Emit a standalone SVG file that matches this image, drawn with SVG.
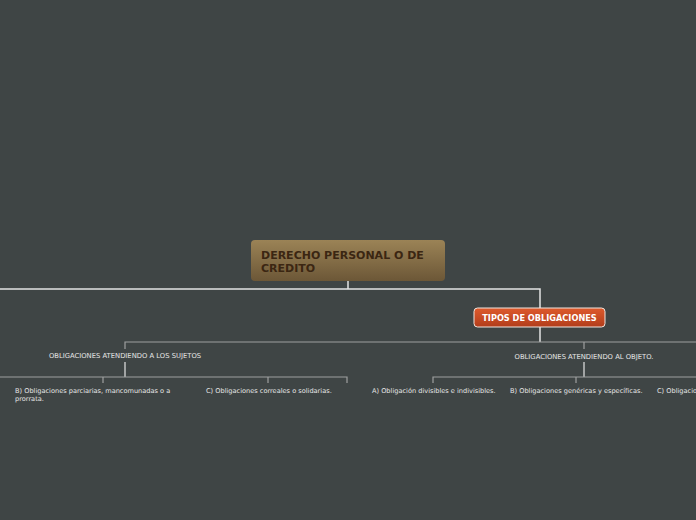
<svg xmlns="http://www.w3.org/2000/svg" width="696" height="520" viewBox="0 0 696 520">
<defs>
<linearGradient id="gMain" x1="0" y1="0" x2="0" y2="1">
<stop offset="0" stop-color="#9b8356"/>
<stop offset="1" stop-color="#6c5737"/>
</linearGradient>
<linearGradient id="gTipos" x1="0" y1="0" x2="0" y2="1">
<stop offset="0" stop-color="#de5a2c"/>
<stop offset="1" stop-color="#b23d1b"/>
</linearGradient>
<style>
.t{font-family:"DejaVu Sans",Verdana,sans-serif;fill:#e6e6e6;font-size:6.8px}
.l{font-family:"DejaVu Sans",Verdana,sans-serif;fill:#e6e6e6;font-size:6.6px}
.c1{stroke:#e4e4e4;stroke-width:1.5;fill:none}
.c2{stroke:#9ea0a0;stroke-width:1.2;fill:none}
.c3{stroke:#e4e4e4;stroke-width:1.2;fill:none}
</style>
</defs>
<rect width="696" height="520" fill="#3f4545"/>
<g id="connectors">
<path class="c1" d="M348 281V289M0 289H540V308"/>
<path class="c1" d="M540 327V342"/>
<path class="c2" d="M125 349V342H696M584 342V349"/>
<path class="c3" d="M125 362V377"/>
<path class="c2" d="M0 377H347V383M103 383V377M268 383V377"/>
<path class="c3" d="M584 362V377"/>
<path class="c2" d="M433 383V377H696M576 383V377"/>
</g>
<g id="main">
<rect x="251" y="240" width="194" height="41" rx="4" fill="url(#gMain)"/>
<text font-family="DejaVu Sans,Verdana,sans-serif" font-weight="bold" font-size="11" fill="#3b2612"><tspan x="261" y="258.5">DERECHO PERSONAL O DE</tspan><tspan x="261" y="272">CREDITO</tspan></text>
</g>
<g id="tipos">
<rect x="474" y="308" width="131" height="19" rx="3.5" fill="url(#gTipos)" stroke="#f0e6e0" stroke-width="1"/>
<text x="539.5" y="320.8" text-anchor="middle" font-family="DejaVu Sans,Verdana,sans-serif" font-weight="bold" font-size="8.2" fill="#ffffff">TIPOS DE OBLIGACIONES</text>
</g>
<g id="sujetos">
<text class="t" x="125" y="358" text-anchor="middle">OBLIGACIONES ATENDIENDO A LOS SUJETOS</text>
</g>
<g id="objeto">
<text class="t" x="584" y="358.5" text-anchor="middle">OBLIGACIONES ATENDIENDO AL OBJETO.</text>
</g>
<g id="parciarias">
<text class="l"><tspan x="15" y="392.5">B) Obligaciones parciarias, mancomunadas o a</tspan><tspan x="15" y="400.5">prorrata.</tspan></text>
</g>
<g id="correales">
<text class="l" x="206" y="392.5">C) Obligaciones correales o solidarias.</text>
</g>
<g id="divisibles">
<text class="l" x="372" y="392.5">A) Obligación divisibles e indivisibles.</text>
</g>
<g id="genericas">
<text class="l" x="510" y="392.5">B) Obligaciones genéricas y específicas.</text>
</g>
<g id="obj-c">
<text class="l" x="657" y="392.5">C) Obligaciones</text>
</g>
</svg>
